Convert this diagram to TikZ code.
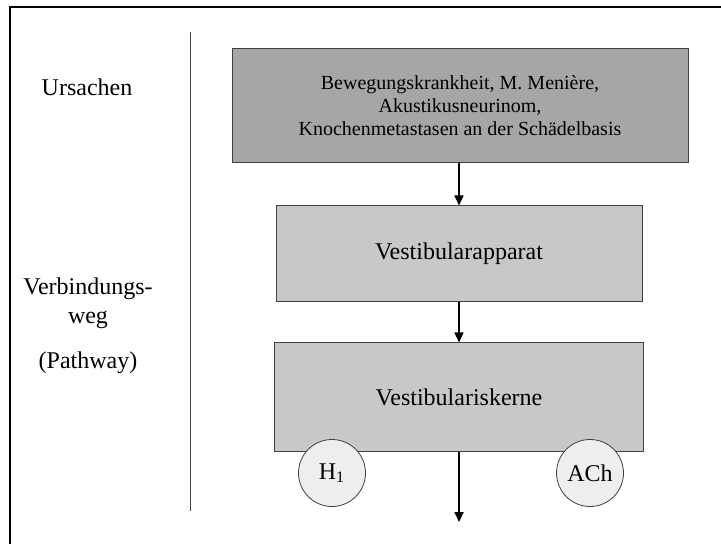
\documentclass[tikz,border=0pt]{standalone}
\usepackage{fontspec}
\setmainfont{Liberation Serif}
\usetikzlibrary{arrows.meta}
\definecolor{causegray}{HTML}{A6A6A6}
\definecolor{pathgray}{HTML}{C8C8C8}
\definecolor{receptorgray}{HTML}{EEEEEE}
\definecolor{edgegray}{HTML}{404040}

\begin{document}
\begin{tikzpicture}[x=0.5pt,y=-0.5pt,font=\fontsize{12}{14.5}\selectfont,
    box/.style={draw=edgegray,line width=0.5pt,align=center,inner sep=0pt},
    receptor/.style={circle,draw=edgegray,line width=0.4pt,fill=receptorgray,
        minimum size=33.5pt,inner sep=0pt},
    flow/.style={-{Triangle[length=5pt,width=4.5pt]},line width=0.7pt}]
    \useasboundingbox (0,0) rectangle (721,544);
    % frame and divider
    \draw[line width=0.9pt] (10,544) -- (10,7) -- (721,7);
    \draw[edgegray,line width=0.5pt] (190,32) -- (190,511);
    % left column
    \node (U) at (87,87) {Ursachen};
    \node[align=center] (V) at (88,303) {Verbindungs-\\weg};
    \node (P) at (88,363) {(Pathway)};
    % boxes
    \node[box,fill=causegray,minimum width=228pt,minimum height=57pt,
        font=\fontsize{10}{11.5}\selectfont] (C) at (460,106)
        {Bewegungskrankheit, M. Menière,\\Akustikusneurinom,\\Knochenmetastasen an der Schädelbasis};
    \node[box,fill=pathgray,minimum width=183pt,minimum height=48pt] (A) at (459,254) {Vestibularapparat};
    \node[box,fill=pathgray,minimum width=184.5pt,minimum height=54pt] (K) at (459,397) {Vestibulariskerne};
    \node[receptor] (H) at (332,473) {H\textsubscript{1}};
    \node[receptor] (ACh) at (590,473) {ACh};
    \coordinate (out) at (459,522);
    % arrows
    \draw[flow] (C.south -| A.north) -- (A.north);
    \draw[flow] (A) -- (K);
    \draw[flow,line width=1pt] (K) -- (out);
\end{tikzpicture}
\end{document}
